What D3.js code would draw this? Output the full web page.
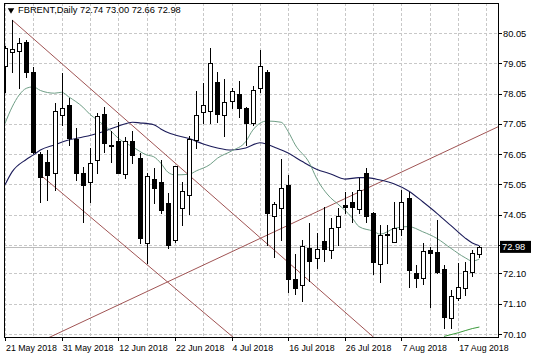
<!DOCTYPE html>
<html>
<head>
<meta charset="utf-8">
<script src="https://cdn.jsdelivr.net/npm/d3@7"></script>
<style>
  html, body { margin: 0; padding: 0; background: #fff; }
  svg { display: block; font-family: "Liberation Sans", Arial, sans-serif; }
</style>
</head>
<body>
<svg id="chart" width="536" height="358"></svg>
<script>
// ─── Data ──────────────────────────────────────────────────────
const symbol = 'FBRENT,Daily';
const lastBar = ['72.74', '73.00', '72.66', '72.98'];

const opens  = [78.97, 79.42, 79.46, 79.76, 78.77, 76.05, 75.80, 75.42, 77.34, 77.67,
                76.55, 75.41, 75.13, 75.85, 77.37, 76.36, 76.48, 75.38, 76.48, 75.93,
                73.10, 75.22, 75.13, 74.42, 73.21, 74.25, 74.69, 76.51, 77.45, 77.47,
                78.44, 77.34, 77.81, 78.02, 77.58, 77.06, 78.22, 78.77, 74.01, 74.25,
                75.03, 71.92, 71.72, 72.95, 72.62, 73.17, 72.88, 73.65, 74.36, 74.47,
                74.23, 75.41, 74.09, 72.40, 73.39, 73.15, 73.57, 74.61, 72.13, 71.94,
                72.88, 72.82, 72.25, 70.64, 71.30, 71.63, 72.16, 72.74];
const highs  = [79.62, 80.48, 79.87, 79.82, 78.94, 76.13, 76.18, 77.74, 78.72, 77.89,
                76.90, 75.63, 76.24, 77.40, 77.61, 76.81, 77.12, 76.62, 76.81, 76.07,
                75.41, 75.58, 75.85, 74.75, 75.66, 75.13, 76.65, 78.13, 78.39, 79.54,
                78.77, 78.53, 78.22, 78.46, 77.61, 78.30, 79.49, 78.83, 74.47, 75.88,
                75.36, 72.73, 73.21, 73.76, 73.45, 74.31, 73.92, 74.27, 74.80, 74.80,
                75.25, 75.58, 74.12, 73.70, 73.70, 74.47, 74.86, 74.80, 72.38, 73.10,
                72.99, 73.87, 72.38, 71.55, 72.44, 72.49, 72.88, 73.00];
const lows   = [78.10, 78.77, 78.22, 78.61, 76.08, 74.47, 74.53, 74.86, 77.01, 76.35,
                75.19, 73.81, 74.47, 75.41, 76.13, 75.80, 75.41, 75.25, 75.74, 73.10,
                72.44, 74.42, 74.09, 72.93, 73.15, 73.70, 74.06, 76.26, 77.06, 77.06,
                77.12, 76.65, 77.56, 77.28, 76.35, 77.01, 78.09, 73.04, 72.65, 73.21,
                71.50, 71.41, 71.19, 71.85, 72.27, 72.51, 72.60, 73.04, 74.09, 73.81,
                74.09, 73.81, 72.07, 71.81, 72.44, 73.13, 73.37, 71.66, 71.66, 71.74,
                71.00, 72.11, 70.29, 70.29, 71.22, 71.39, 72.03, 72.66];
const closes = [79.56, 79.52, 79.71, 78.77, 76.13, 75.30, 75.36, 77.47, 77.58, 76.59,
                75.41, 75.03, 75.74, 77.31, 76.40, 76.33, 75.43, 76.48, 76.02, 73.26,
                75.33, 74.94, 74.20, 73.04, 75.65, 74.83, 76.54, 77.34, 77.67, 79.05,
                77.36, 77.78, 78.13, 77.56, 77.06, 78.17, 78.96, 74.09, 74.39, 74.94,
                71.92, 71.61, 73.02, 72.51, 72.91, 72.91, 73.61, 74.01, 74.31, 74.31,
                74.86, 74.01, 72.49, 73.37, 73.36, 73.61, 74.47, 72.22, 71.94, 72.84,
                72.77, 72.16, 70.67, 71.36, 71.66, 72.18, 72.77, 72.98];

// slow moving average (dark blue), sampled at bar index
const slowMaBars   = [0, 1, 3, 4, 5, 7, 9, 11, 12, 14, 16, 18, 19, 21, 22, 23, 24, 26, 28, 30,
                      32, 34, 36, 37, 38, 40, 42, 44, 46, 48, 50, 51, 53, 55, 57, 59, 61, 63, 65, 66, 67];
const slowMaValues = [75.03, 75.46, 75.87, 76.02, 76.18, 76.35, 76.51, 76.61, 76.66, 76.80,
                      76.97, 77.10, 77.08, 77.02, 76.88, 76.76, 76.68, 76.56, 76.38, 76.25,
                      76.18, 76.25, 76.42, 76.37, 76.28, 76.08, 75.80, 75.55, 75.39, 75.22,
                      75.27, 75.27, 75.19, 75.06, 74.83, 74.47, 74.09, 73.68, 73.27, 73.11, 73.02];

// fast moving average (grey green)
const fastMaBars   = [0, 1, 2, 3, 4, 5, 7, 8, 9, 11, 12, 13, 15, 16, 18, 20, 21, 22, 23, 24,
                      26, 27, 29, 30, 32, 34, 35, 37, 39, 40, 41, 43, 44, 46, 47, 49, 50, 52, 53,
                      55, 57, 59, 61, 63, 65, 66, 67];
const fastMaValues = [77.06, 77.60, 78.00, 78.22, 78.27, 78.15, 78.06, 78.09, 77.94, 77.60,
                      77.36, 77.18, 76.80, 76.57, 76.29, 76.02, 75.96, 75.75, 75.45, 75.36,
                      75.38, 75.49, 75.71, 75.91, 76.15, 76.46, 76.84, 77.14, 77.10, 76.79,
                      76.35, 75.75, 75.25, 74.60, 74.40, 73.95, 73.65, 73.50, 73.40, 73.59,
                      73.65, 73.48, 73.26, 72.93, 72.62, 72.51, 72.58];

// third average, just entering at the bottom right
const lowMaBars   = [62, 64, 66, 67];
const lowMaValues = [70.02, 70.14, 70.28, 70.33];

// trend lines: [bar, price] anchor pairs
const trendDown  = [[1, 80.48], [53, 69.80]];
const channelLow = [[5, 75.36], [33, 69.84]];
const trendUp    = [[6, 69.96], [70, 76.99]];

const priceTicks  = [80.05, 79.05, 78.05, 77.05, 76.05, 75.05, 74.05, 73.05, 72.10, 71.10, 70.10];
const priceLabels = ['80.05', '79.05', '78.05', '77.05', '76.05', '75.05', '74.05', '', '72.10', '71.10', '70.10'];
const bidPrice = 72.98;

const dateBars   = [0, 8, 16, 24, 32, 40, 48, 56, 64];
const dateLabels = ['21 May 2018', '31 May 2018', '12 Jun 2018', '22 Jun 2018', '4 Jul 2018',
                    '16 Jul 2018', '26 Jul 2018', '7 Aug 2018', '17 Aug 2018'];
const gridBars = d3.range(0, 69, 4);

// ─── Layout ────────────────────────────────────────────────────
const plot = { left: 4, right: 498, top: 3, bottom: 337 };
const fontSize = 9.3;
const dateFontSize = 8.8;

const x = d3.scaleLinear().domain([-0.14, 69.63]).range([plot.left, plot.right]);
const y = d3.scaleLinear().domain([70.10, 80.05]).range([334, 33]);

const px = v => Math.round(v) + 0.5;

const svg = d3.select('#chart');

svg.append('defs').append('clipPath').attr('id', 'plotClip')
    .append('rect')
    .attr('x', plot.left).attr('y', plot.top)
    .attr('width', plot.right - plot.left).attr('height', plot.bottom - plot.top);

const grid = svg.append('g').attr('clip-path', 'url(#plotClip)');

// grid
grid.selectAll('line.hgrid').data(priceTicks).enter().append('line')
    .attr('x1', plot.left).attr('x2', plot.right)
    .attr('y1', d => px(y(d))).attr('y2', d => px(y(d)))
    .attr('stroke', '#c8c8c8').attr('stroke-dasharray', '3,2');

grid.selectAll('line.vgrid').data(gridBars).enter().append('line')
    .attr('x1', d => px(x(d))).attr('x2', d => px(x(d)))
    .attr('y1', plot.top).attr('y2', plot.bottom)
    .attr('stroke', '#c8c8c8').attr('stroke-dasharray', '3,2');

// bid line
grid.append('line')
    .attr('x1', plot.left).attr('x2', plot.right)
    .attr('y1', px(y(bidPrice))).attr('y2', px(y(bidPrice)))
    .attr('stroke', '#bdbdbd');

const marks = svg.append('g').attr('clip-path', 'url(#plotClip)');

// trend lines
const tLine = d3.line().x(d => x(d[0])).y(d => y(d[1]));
[trendDown, channelLow, trendUp].forEach(t => {
    marks.append('path').attr('d', tLine(t))
        .attr('fill', 'none').attr('stroke', '#a05454').attr('stroke-width', 1);
});

// moving averages
const maLine = d3.line().curve(d3.curveMonotoneX).x(d => x(d[0])).y(d => y(d[1]));
marks.append('path').attr('d', maLine(d3.zip(slowMaBars, slowMaValues)))
    .attr('fill', 'none').attr('stroke', '#1c1c5a').attr('stroke-width', 1.1);
marks.append('path').attr('d', maLine(d3.zip(fastMaBars, fastMaValues)))
    .attr('fill', 'none').attr('stroke', '#6f9e86').attr('stroke-width', 1);
marks.append('path').attr('d', maLine(d3.zip(lowMaBars, lowMaValues)))
    .attr('fill', 'none').attr('stroke', '#3c9a3c').attr('stroke-width', 1);

// candles
const bars = d3.range(opens.length).map(i => ({
    i, o: opens[i], h: highs[i], l: lows[i], c: closes[i]
}));

const candle = marks.selectAll('g.candle').data(bars).enter().append('g').attr('class', 'candle');

candle.append('line')
    .attr('x1', d => px(x(d.i))).attr('x2', d => px(x(d.i)))
    .attr('y1', d => Math.round(y(d.h))).attr('y2', d => Math.round(y(d.l)) + 1)
    .attr('stroke', '#000');

candle.append('rect')
    .attr('x', d => Math.round(x(d.i)) - 1.5)
    .attr('y', d => Math.round(y(Math.max(d.o, d.c))) + 0.5)
    .attr('width', 4)
    .attr('height', d => Math.max(0, Math.round(y(Math.min(d.o, d.c))) - Math.round(y(Math.max(d.o, d.c)))))
    .attr('fill', d => d.c >= d.o ? '#fff' : '#000')
    .attr('stroke', '#000');

// frame
svg.append('rect')
    .attr('x', plot.left + 0.5).attr('y', plot.top + 0.5)
    .attr('width', plot.right - plot.left).attr('height', plot.bottom - plot.top)
    .attr('fill', 'none').attr('stroke', '#000');

// price axis
const yAxis = svg.append('g');
yAxis.selectAll('line').data(priceTicks).enter().append('line')
    .attr('x1', plot.right + 0.5).attr('x2', plot.right + 4)
    .attr('y1', d => px(y(d))).attr('y2', d => px(y(d)))
    .attr('stroke', '#000');
yAxis.selectAll('text').data(priceTicks).enter().append('text')
    .attr('x', plot.right + 5).attr('y', d => y(d) + 3.5)
    .attr('font-size', fontSize).attr('fill', '#000')
    .text((d, i) => priceLabels[i]);

// bid price marker
const bidG = svg.append('g');
bidG.append('rect')
    .attr('x', plot.right + 2).attr('y', y(bidPrice) - 6)
    .attr('width', 31).attr('height', 12).attr('fill', '#000');
bidG.append('text')
    .attr('x', plot.right + 4).attr('y', y(bidPrice) + 3.5)
    .attr('font-size', fontSize).attr('fill', '#fff')
    .text(bidPrice.toFixed(2));

// time axis
const xAxis = svg.append('g');
xAxis.selectAll('line').data(dateBars).enter().append('line')
    .attr('x1', d => px(Math.max(plot.left, x(d)))).attr('x2', d => px(Math.max(plot.left, x(d))))
    .attr('y1', plot.bottom).attr('y2', plot.bottom + 4)
    .attr('stroke', '#000');
xAxis.selectAll('text').data(dateBars).enter().append('text')
    .attr('x', d => Math.max(plot.left, x(d)) + 1).attr('y', plot.bottom + 14)
    .attr('font-size', dateFontSize).attr('fill', '#000')
    .text((d, i) => dateLabels[i]);

// title
const title = svg.append('g');
title.append('path')
    .attr('d', d3.symbol().type(d3.symbolTriangle).size(18))
    .attr('transform', 'translate(11,10) rotate(180)')
    .attr('fill', '#000');
title.append('text')
    .attr('x', 18).attr('y', 13)
    .attr('font-size', fontSize).attr('fill', '#000')
    .text(symbol + '  ' + lastBar.join(' '));
</script>
</body>
</html>
